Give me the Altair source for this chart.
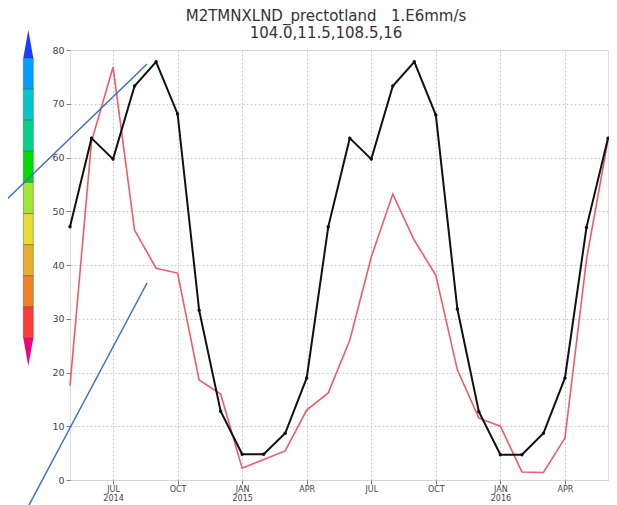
import json
import altair as alt
import pandas as pd

# ---------------- data ----------------
months = ["2014-05", "2014-06", "2014-07", "2014-08", "2014-09", "2014-10",
          "2014-11", "2014-12", "2015-01", "2015-02", "2015-03", "2015-04",
          "2015-05", "2015-06", "2015-07", "2015-08", "2015-09", "2015-10",
          "2015-11", "2015-12", "2016-01", "2016-02", "2016-03", "2016-04",
          "2016-05", "2016-06"]
black_vals = [47.1, 63.6, 59.7, 73.3, 77.8, 68.1, 31.6, 12.8, 4.8, 4.8, 8.7, 19.0,
              47.1, 63.6, 59.7, 73.3, 77.8, 67.9, 31.8, 12.7, 4.7, 4.7, 8.7, 19.0,
              47.0, 63.6]
red_vals = [17.5, 63.0, 76.8, 46.5, 39.4, 38.5, 18.6, 16.0, 2.2, 3.8, 5.4, 13.0,
            16.2, 26.0, 41.5, 53.2, 44.6, 38.1, 20.5, 11.5, 10.0, 1.5, 1.4, 7.8,
            41.0, 63.3]
x_tick_idx = [2, 5, 8, 11, 14, 17, 20, 23]
x_tick_labels = [["JUL", "2014"], ["OCT"], ["JAN", "2015"], ["APR"],
                 ["JUL"], ["OCT"], ["JAN", "2016"], ["APR"]]
y_ticks = [0, 10, 20, 30, 40, 50, 60, 70, 80]
title_lines = ["M2TMNXLND_prectotland\u00a0\u00a0\u00a01.E6mm/s",
               "104.0,11.5,108.5,16"]
cbar_colors = ["#1e3cff", "#00a0ff", "#00c8c8", "#00d28c", "#00dc00", "#a0e632",
               "#e6dc32", "#e6af2d", "#f08228", "#fa3c3c", "#f00082"]

df = pd.DataFrame({"i": list(range(len(months))), "month": months,
                   "black": black_vals, "red": red_vals})

W, H = 538, 430

parts = []
for v, lbl in zip(x_tick_idx, x_tick_labels):
    txt = json.dumps(lbl) if len(lbl) > 1 else json.dumps(lbl[0])
    parts.append(f"datum.value == {v} ? {txt}")
label_expr = " : ".join(parts) + " : ''"

xscale = alt.Scale(domain=[0, len(months) - 1], nice=False, zero=False)
yscale = alt.Scale(domain=[0, 80], nice=False)

xaxis = alt.Axis(values=x_tick_idx, labelExpr=label_expr, title=None,
                 labelFontSize=8, labelLineHeight=9.5, labelFont="DejaVu Sans",
                 labelColor="#444", labelPadding=1, tickSize=4, tickColor="#777",
                 domain=False, grid=True, gridColor="#cccccc", gridDash=[2, 2],
                 labelOverlap=False, labelFlush=False)
yaxis = alt.Axis(values=y_ticks, title=None, labelFontSize=9.5,
                 labelFont="DejaVu Sans", labelColor="#444", labelPadding=2,
                 tickSize=4, tickColor="#777", domain=False, grid=True,
                 gridColor="#cccccc", gridDash=[2, 2])

base = alt.Chart(df)
red_line = base.mark_line(color="#ef5a6c", strokeWidth=1.6).encode(
    x=alt.X("i:Q", scale=xscale, axis=xaxis),
    y=alt.Y("red:Q", scale=yscale, axis=yaxis),
)
black_line = base.mark_line(
    color="#111111", strokeWidth=2,
    point=alt.OverlayMarkDef(filled=True, size=12, color="#111111"),
).encode(x=alt.X("i:Q", scale=xscale), y=alt.Y("black:Q", scale=yscale))

one = alt.Data(values=[{"k": 0}])
layers = [red_line, black_line]

# title lines drawn as text above the frame
title_baselines = [-29, -12]
for txt, by in zip(title_lines, title_baselines):
    layers.append(alt.Chart(one).mark_text(
        font="DejaVu Sans", fontSize=15, color="#333", align="center",
        baseline="alphabetic").encode(
        x=alt.value(256), y=alt.value(by), text=alt.value(txt)))

# colour bar (decoration at the left)
cb_x0, cb_x1 = -46.7, -36.7
cb_top, cb_rect0, cb_rect1, cb_bot = -20, 8, 288, 316
mid = cbar_colors[1:-1]
step = (cb_rect1 - cb_rect0) / len(mid)
for k, c in enumerate(mid):
    layers.append(alt.Chart(one).mark_rect(stroke="#444", strokeWidth=0.5,
                                           strokeOpacity=0.8).encode(
        x=alt.value(cb_x0), x2=alt.value(cb_x1),
        y=alt.value(cb_rect0 + k * step), y2=alt.value(cb_rect0 + (k + 1) * step),
        color=alt.value(c)))
tri_h = cb_rect0 - cb_top
hw = ((cb_x1 - cb_x0) / 2) / (tri_h / 2)
layers.append(alt.Chart(one).mark_point(
    shape=f"M {-hw} 1 L 0 -1 L {hw} 1 Z", filled=True, opacity=1,
    size=tri_h * tri_h).encode(
    x=alt.value((cb_x0 + cb_x1) / 2), y=alt.value((cb_top + cb_rect0) / 2),
    color=alt.value(cbar_colors[0])))
layers.append(alt.Chart(one).mark_point(
    shape=f"M {-hw} -1 L 0 1 L {hw} -1 Z", filled=True, opacity=1,
    size=tri_h * tri_h).encode(
    x=alt.value((cb_x0 + cb_x1) / 2), y=alt.value((cb_rect1 + cb_bot) / 2),
    color=alt.value(cbar_colors[-1])))

# blue annotation strokes drawn over the image
annot_lines = [(-70, 156, 77, 14), (77, 233, -41, 455)]
for (ax0, ay0, ax1, ay1) in annot_lines:
    layers.append(alt.Chart(one).mark_rule(color="#3f6fc2", strokeWidth=1.5).encode(
        x=alt.value(ax0), y=alt.value(ay0), x2=alt.value(ax1), y2=alt.value(ay1)))

chart = alt.layer(*layers).properties(
    width=W, height=H,
    autosize=alt.AutoSizeParams(type="none"),
    padding={"left": 62, "top": 42, "right": 1, "bottom": 25},
).configure_view(stroke="#666", strokeWidth=1.5).configure(background="white")

chart.save("out.html", embed_options={"renderer": "svg", "actions": False})
